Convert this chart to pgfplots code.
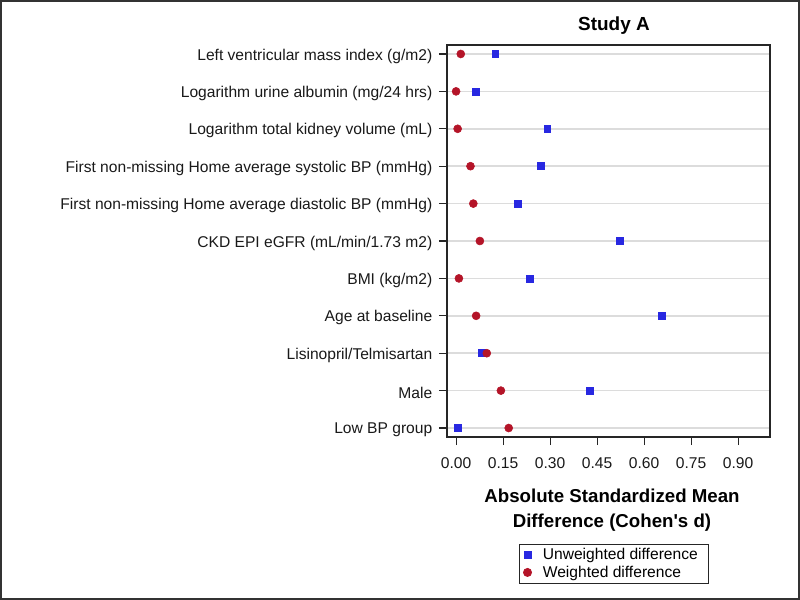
\documentclass[border=0pt]{standalone}
\usepackage{pgfplots}
\pgfplotsset{compat=1.18}
\usepackage{fontspec}
\setmainfont{Liberation Sans}
\definecolor{cblue}{RGB}{40,40,225}
\definecolor{cred}{RGB}{180,20,40}
\definecolor{cgrid}{RGB}{220,220,220}
\begin{document}
\begin{tikzpicture}
\useasboundingbox (0,0) rectangle (600pt,450pt);
\draw[line width=1.2pt, black!80] (0.75pt,0.75pt) rectangle (599.25pt,449.25pt);
\begin{axis}[
  at={(335.25pt,122.25pt)}, anchor=south west,
  scale only axis, width=242.25pt, height=294pt,
  xmin=-0.029, xmax=1.002, ymin=0.76, ymax=11.24,
  xtick={0,0.15,0.3,0.45,0.6,0.75,0.9},
  xticklabel style={yshift=-6pt, /pgf/number format/.cd, fixed, fixed zerofill, precision=2, assume math mode=true},
  yticklabel style={xshift=-1.5pt, yshift=-1.5pt},
  ytick={1,...,11},
  yticklabels={Low BP group, Male, Lisinopril/Telmisartan, Age at baseline, BMI (kg/m2), CKD EPI eGFR (mL/min/1.73 m2), First non-missing Home average diastolic BP (mmHg), First non-missing Home average systolic BP (mmHg), Logarithm total kidney volume (mL), Logarithm urine albumin (mg/24 hrs), Left ventricular mass index (g/m2)},
  tick label style={font=\fontsize{11.7}{13}\selectfont, text=black!90},
  tick align=outside, tickpos=left,
  major tick length=6pt,
  axis line style={line width=0.9pt, black!85},
  every tick/.style={line width=0.8pt, black!85},
  ymajorgrids, grid style={cgrid, line width=1.1pt},
  legend style={at={(0.517,-0.273)}, anchor=north, draw=black!85, line width=0.7pt, font=\fontsize{11.7}{13}\selectfont, row sep=-1pt, inner xsep=3pt, inner ysep=1pt, nodes={inner xsep=5pt}, /tikz/every odd column/.style={column sep=3.5pt}},
  legend cell align=left,
]
\addplot[only marks, mark=square*, mark size=2.6pt, color=cblue] coordinates {
(0.125,11) (0.064,10) (0.291,9) (0.269,8) (0.197,7) (0.522,6) (0.234,5) (0.656,4) (0.081,3) (0.426,2) (0.006,1)};
\addlegendentry{Unweighted difference\hspace{-3pt}}
\addplot[only marks, mark=*, mark size=3pt, color=cred] coordinates {
(0.015,11) (0.000,10) (0.005,9) (0.046,8) (0.055,7) (0.076,6) (0.009,5) (0.064,4) (0.098,3) (0.143,2) (0.168,1)};
\addlegendentry{Weighted difference}
\end{axis}
\node[font=\bfseries\fontsize{14.2}{16}\selectfont] at (460.5pt,430.5pt) {Study A};
\node[font=\bfseries\fontsize{14}{19}\selectfont, align=center] at (459pt,67.5pt) {Absolute Standardized Mean\\Difference (Cohen\textquotesingle s d)};
\end{tikzpicture}
\end{document}
